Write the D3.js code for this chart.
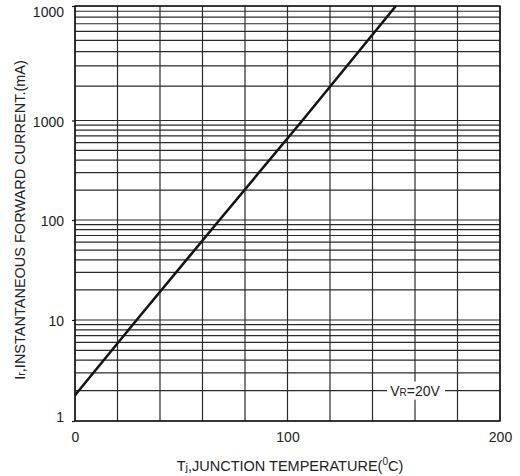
<!DOCTYPE html>
<html>
<head>
<meta charset="utf-8">
<script src="https://cdn.jsdelivr.net/npm/d3@7"></script>
<style>
  body { margin: 0; background: #fff; }
  text { font-family: "Liberation Sans", Arial, sans-serif; fill: #222; }
</style>
</head>
<body>
<div id="chart"></div>
<script>
// data (line crossings of the decade lines)
const temps = [0, 29, 68, 107, 151];
const currents = [1.8, 10, 100, 1000, 10000];

// axis ticks
const xTickValues = [0, 100, 200];
const yTickValues = [1, 10, 100, 1000, 10000];
const yTickLabels = ["1", "10", "100", "1000", "1000"];

const width = 520, height = 476;
const margin = { top: 6, right: 20, bottom: 55, left: 75 };
const innerW = width - margin.left - margin.right;

const svg = d3.select("#chart")
  .append("svg")
  .attr("width", width)
  .attr("height", height);

// scales
const x = d3.scaleLinear()
  .domain([0, 200])
  .range([margin.left, margin.left + innerW]);
// decade lines in the reference are not evenly spaced, so piecewise log
const y = d3.scaleLog()
  .domain(yTickValues)
  .range([421, 320, 220, 120.5, 6]);

const gridColor = "#2a2a2a";

// grid
const groupGrid = svg.append("g").attr("class", "groupGrid");
groupGrid.selectAll("line.h")
  .data(y.ticks())
  .join("line")
  .attr("class", "h")
  .attr("x1", x(0))
  .attr("x2", x(200))
  .attr("y1", d => y(d))
  .attr("y2", d => y(d))
  .attr("stroke", gridColor)
  .attr("stroke-width", 1.2);
groupGrid.selectAll("line.v")
  .data(x.ticks(10))
  .join("line")
  .attr("class", "v")
  .attr("x1", d => x(d))
  .attr("x2", d => x(d))
  .attr("y1", y(10000))
  .attr("y2", y(1))
  .attr("stroke", gridColor)
  .attr("stroke-width", 1.2);

// frame
svg.append("rect")
  .attr("x", x(0))
  .attr("y", y(10000))
  .attr("width", x(200) - x(0))
  .attr("height", y(1) - y(10000))
  .attr("fill", "none")
  .attr("stroke", "#111")
  .attr("stroke-width", 1.4);

// axes
svg.append("g")
  .attr("transform", `translate(${x(0)},0)`)
  .call(d3.axisLeft(y)
    .tickValues(yTickValues)
    .tickFormat((d, i) => yTickLabels[i])
    .tickSize(3)
    .tickSizeOuter(0)
    .tickPadding(8))
  .call(g => g.select(".domain").remove())
  .call(g => g.selectAll(".tick line").attr("stroke", "#111").attr("stroke-width", 1.2))
  .call(g => g.selectAll(".tick text")
    .attr("font-size", 14)
    .attr("font-family", "Liberation Sans, Arial, sans-serif")
    .attr("fill", "#222")
    .attr("dy", d => d === 10000 ? "0.78em" : d === 1 ? "0.0em" : "0.4em"));

svg.append("g")
  .attr("transform", `translate(0,${y(1)})`)
  .call(d3.axisBottom(x)
    .tickValues(xTickValues)
    .tickSize(0)
    .tickSizeOuter(0)
    .tickPadding(11))
  .call(g => g.select(".domain").remove())
  .call(g => g.selectAll(".tick text")
    .attr("font-size", 14)
    .attr("font-family", "Liberation Sans, Arial, sans-serif")
    .attr("fill", "#222"));

// curve
const points = temps.map((t, i) => [t, currents[i]]);
svg.append("path")
  .datum(points)
  .attr("fill", "none")
  .attr("stroke", "#151515")
  .attr("stroke-width", 2.6)
  .attr("d", d3.line().x(d => x(d[0])).y(d => y(d[1])));

// VR=20V label with white box over the grid
const note = svg.append("g").attr("transform", `translate(${x(160)},${y(2)})`);
note.append("rect")
  .attr("x", -28)
  .attr("y", -9)
  .attr("width", 58)
  .attr("height", 18)
  .attr("fill", "#fff");
const noteText = note.append("text")
  .attr("text-anchor", "middle")
  .attr("y", 5)
  .attr("font-size", 14);
noteText.append("tspan").text("V");
noteText.append("tspan").attr("font-size", 10).text("R");
noteText.append("tspan").text("=20V");

// axis titles
const xTitle = svg.append("text")
  .attr("x", 290)
  .attr("y", 471)
  .attr("text-anchor", "middle")
  .attr("font-size", 14.5);
xTitle.append("tspan").text("T");
xTitle.append("tspan").attr("font-size", 11).text("j");
xTitle.append("tspan").text(",JUNCTION TEMPERATURE(");
xTitle.append("tspan").attr("font-size", 10).attr("dy", -6).text("0");
xTitle.append("tspan").attr("dy", 6).text("C)");

const yTitle = svg.append("text")
  .attr("transform", "translate(25,220) rotate(-90)")
  .attr("text-anchor", "middle")
  .attr("font-size", 14.5);
yTitle.append("tspan").text("I");
yTitle.append("tspan").attr("font-size", 11).text("r");
yTitle.append("tspan").text(",INSTANTANEOUS FORWARD CURRENT.(mA)");
</script>
</body>
</html>
